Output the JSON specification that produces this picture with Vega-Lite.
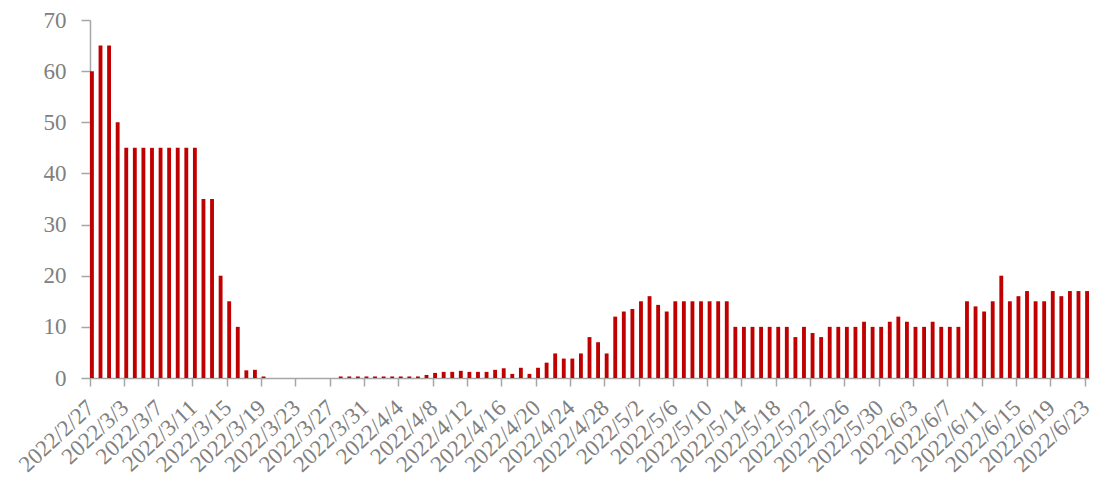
{
  "$schema": "https://vega.github.io/schema/vega-lite/v6.json",
  "autosize": "none",
  "width": 999,
  "height": 358,
  "padding": {"left": 90, "top": 20, "right": 5, "bottom": 106},
  "background": "white",
  "config": {"view": {"stroke": null}},
  "data": {"values": [
    {"d": "2022/2/27", "v": 60}, {"d": "2022/2/28", "v": 65},
    {"d": "2022/3/1", "v": 65}, {"d": "2022/3/2", "v": 50}, {"d": "2022/3/3", "v": 45}, {"d": "2022/3/4", "v": 45}, {"d": "2022/3/5", "v": 45}, {"d": "2022/3/6", "v": 45}, {"d": "2022/3/7", "v": 45}, {"d": "2022/3/8", "v": 45}, {"d": "2022/3/9", "v": 45}, {"d": "2022/3/10", "v": 45}, {"d": "2022/3/11", "v": 45}, {"d": "2022/3/12", "v": 35}, {"d": "2022/3/13", "v": 35}, {"d": "2022/3/14", "v": 20}, {"d": "2022/3/15", "v": 15}, {"d": "2022/3/16", "v": 10}, {"d": "2022/3/17", "v": 1.5}, {"d": "2022/3/18", "v": 1.6}, {"d": "2022/3/19", "v": 0.3}, {"d": "2022/3/20", "v": 0}, {"d": "2022/3/21", "v": 0}, {"d": "2022/3/22", "v": 0}, {"d": "2022/3/23", "v": 0}, {"d": "2022/3/24", "v": 0}, {"d": "2022/3/25", "v": 0}, {"d": "2022/3/26", "v": 0}, {"d": "2022/3/27", "v": 0}, {"d": "2022/3/28", "v": 0.3}, {"d": "2022/3/29", "v": 0.3}, {"d": "2022/3/30", "v": 0.3}, {"d": "2022/3/31", "v": 0.3},
    {"d": "2022/4/1", "v": 0.3}, {"d": "2022/4/2", "v": 0.3}, {"d": "2022/4/3", "v": 0.3}, {"d": "2022/4/4", "v": 0.3}, {"d": "2022/4/5", "v": 0.3}, {"d": "2022/4/6", "v": 0.3}, {"d": "2022/4/7", "v": 0.6}, {"d": "2022/4/8", "v": 1.0}, {"d": "2022/4/9", "v": 1.2}, {"d": "2022/4/10", "v": 1.2}, {"d": "2022/4/11", "v": 1.4}, {"d": "2022/4/12", "v": 1.2}, {"d": "2022/4/13", "v": 1.2}, {"d": "2022/4/14", "v": 1.2}, {"d": "2022/4/15", "v": 1.6}, {"d": "2022/4/16", "v": 1.9}, {"d": "2022/4/17", "v": 0.8}, {"d": "2022/4/18", "v": 2}, {"d": "2022/4/19", "v": 0.8}, {"d": "2022/4/20", "v": 2}, {"d": "2022/4/21", "v": 3}, {"d": "2022/4/22", "v": 4.8}, {"d": "2022/4/23", "v": 3.8}, {"d": "2022/4/24", "v": 3.8}, {"d": "2022/4/25", "v": 4.8}, {"d": "2022/4/26", "v": 8}, {"d": "2022/4/27", "v": 7}, {"d": "2022/4/28", "v": 4.8}, {"d": "2022/4/29", "v": 12}, {"d": "2022/4/30", "v": 13},
    {"d": "2022/5/1", "v": 13.5}, {"d": "2022/5/2", "v": 15}, {"d": "2022/5/3", "v": 16}, {"d": "2022/5/4", "v": 14.3}, {"d": "2022/5/5", "v": 13}, {"d": "2022/5/6", "v": 15}, {"d": "2022/5/7", "v": 15}, {"d": "2022/5/8", "v": 15}, {"d": "2022/5/9", "v": 15}, {"d": "2022/5/10", "v": 15}, {"d": "2022/5/11", "v": 15}, {"d": "2022/5/12", "v": 15}, {"d": "2022/5/13", "v": 10}, {"d": "2022/5/14", "v": 10}, {"d": "2022/5/15", "v": 10}, {"d": "2022/5/16", "v": 10}, {"d": "2022/5/17", "v": 10}, {"d": "2022/5/18", "v": 10}, {"d": "2022/5/19", "v": 10}, {"d": "2022/5/20", "v": 8}, {"d": "2022/5/21", "v": 10}, {"d": "2022/5/22", "v": 8.8}, {"d": "2022/5/23", "v": 8}, {"d": "2022/5/24", "v": 10}, {"d": "2022/5/25", "v": 10}, {"d": "2022/5/26", "v": 10}, {"d": "2022/5/27", "v": 10}, {"d": "2022/5/28", "v": 11}, {"d": "2022/5/29", "v": 10}, {"d": "2022/5/30", "v": 10}, {"d": "2022/5/31", "v": 11},
    {"d": "2022/6/1", "v": 12}, {"d": "2022/6/2", "v": 11}, {"d": "2022/6/3", "v": 10}, {"d": "2022/6/4", "v": 10}, {"d": "2022/6/5", "v": 11}, {"d": "2022/6/6", "v": 10}, {"d": "2022/6/7", "v": 10}, {"d": "2022/6/8", "v": 10}, {"d": "2022/6/9", "v": 15}, {"d": "2022/6/10", "v": 14}, {"d": "2022/6/11", "v": 13}, {"d": "2022/6/12", "v": 15}, {"d": "2022/6/13", "v": 20}, {"d": "2022/6/14", "v": 15}, {"d": "2022/6/15", "v": 16}, {"d": "2022/6/16", "v": 17}, {"d": "2022/6/17", "v": 15}, {"d": "2022/6/18", "v": 15}, {"d": "2022/6/19", "v": 17}, {"d": "2022/6/20", "v": 16}, {"d": "2022/6/21", "v": 17}, {"d": "2022/6/22", "v": 17}, {"d": "2022/6/23", "v": 17}
  ]},
  "mark": {"type": "bar", "color": "#C00000"},
  "encoding": {
    "x": {
      "field": "d",
      "type": "ordinal",
      "sort": null,
      "scale": {"paddingInner": 0.55, "paddingOuter": 0},
      "axis": {
        "title": null,
        "values": ["2022/2/27", "2022/3/3", "2022/3/7", "2022/3/11", "2022/3/15", "2022/3/19", "2022/3/23", "2022/3/27", "2022/3/31", "2022/4/4", "2022/4/8", "2022/4/12", "2022/4/16", "2022/4/20", "2022/4/24", "2022/4/28", "2022/5/2", "2022/5/6", "2022/5/10", "2022/5/14", "2022/5/18", "2022/5/22", "2022/5/26", "2022/5/30", "2022/6/3", "2022/6/7", "2022/6/11", "2022/6/15", "2022/6/19", "2022/6/23"],
        "bandPosition": 0,
        "labelAngle": -43,
        "labelAlign": "right",
        "labelBaseline": "middle",
        "labelPadding": 18,
        "labelOffset": -1,
        "labelFont": "Liberation Serif",
        "labelFontSize": 23,
        "labelColor": "#808080",
        "labelOverlap": false,
        "labelBound": false,
        "domainColor": "#a6a6a6",
        "domainWidth": 1.5,
        "tickColor": "#a6a6a6",
        "tickWidth": 1.5,
        "tickSize": 8,
        "grid": false
      }
    },
    "y": {
      "field": "v",
      "type": "quantitative",
      "scale": {"domain": [0, 70], "nice": false},
      "axis": {
        "title": null,
        "values": [0, 10, 20, 30, 40, 50, 60, 70],
        "labelFont": "Liberation Serif",
        "labelFontSize": 23,
        "labelColor": "#808080",
        "labelPadding": 15,
        "domainColor": "#a6a6a6",
        "domainWidth": 1.5,
        "tickColor": "#a6a6a6",
        "tickWidth": 1.5,
        "tickSize": 9,
        "grid": false
      }
    }
  }
}
